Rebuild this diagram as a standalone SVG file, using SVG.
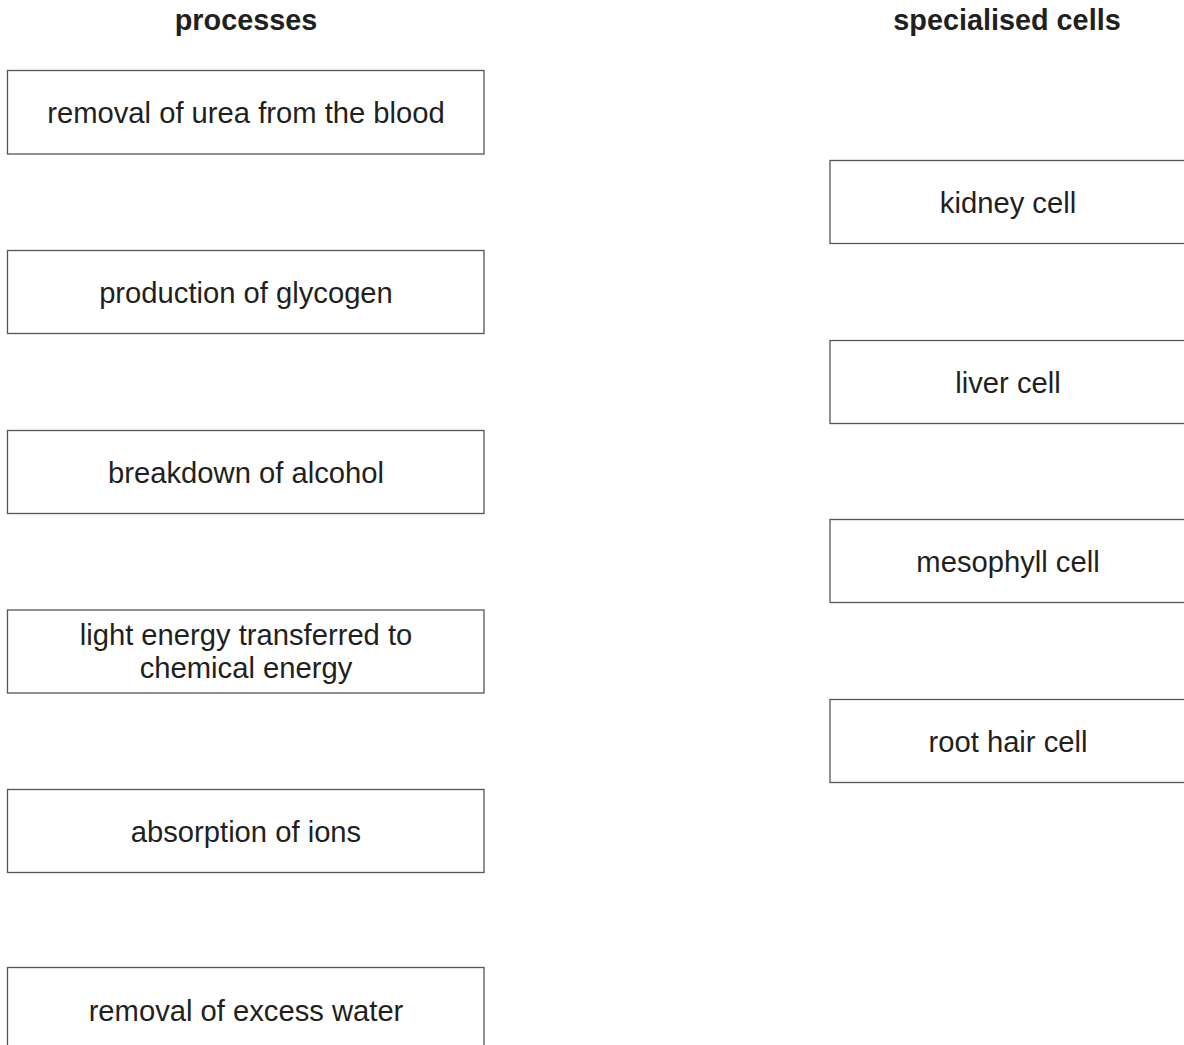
<svg xmlns="http://www.w3.org/2000/svg" width="1184" height="1045" viewBox="0 0 1184 1045">
<style>
.box{fill:#fff;stroke:#555;stroke-width:1.3}
.t{font-family:"Liberation Sans",Arial,sans-serif;font-size:29.2px;fill:#231f20;text-anchor:middle}
.h{font-family:"Liberation Sans",Arial,sans-serif;font-size:28.8px;font-weight:bold;fill:#231f20;text-anchor:middle}
</style>
<rect width="1184" height="1045" fill="#fff"/>
<text class="h" x="246" y="30">processes</text>
<text class="h" x="1007" y="30">specialised cells</text>
<g id="p1"><rect class="box" x="7.5" y="70.5" width="476.5" height="83.5"/><text class="t" x="246" y="123">removal of urea from the blood</text></g>
<g id="p2"><rect class="box" x="7.5" y="250.5" width="476.5" height="83"/><text class="t" x="246" y="303">production of glycogen</text></g>
<g id="p3"><rect class="box" x="7.5" y="430.5" width="476.5" height="83"/><text class="t" x="246" y="483">breakdown of alcohol</text></g>
<g id="p4"><rect class="box" x="7.5" y="610" width="476.5" height="83"/><text class="t" x="246" y="645">light energy transferred to</text><text class="t" x="246" y="678">chemical energy</text></g>
<g id="p5"><rect class="box" x="7.5" y="789.5" width="476.5" height="83"/><text class="t" x="246" y="842">absorption of ions</text></g>
<g id="p6"><rect class="box" x="7.5" y="967.5" width="476.5" height="90"/><text class="t" x="246" y="1021">removal of excess water</text></g>
<g id="c1"><rect class="box" x="830" y="160.5" width="370" height="83"/><text class="t" x="1008" y="213">kidney cell</text></g>
<g id="c2"><rect class="box" x="830" y="340.5" width="370" height="83"/><text class="t" x="1008" y="393">liver cell</text></g>
<g id="c3"><rect class="box" x="830" y="519.5" width="370" height="83"/><text class="t" x="1008" y="572">mesophyll cell</text></g>
<g id="c4"><rect class="box" x="830" y="699.5" width="370" height="83"/><text class="t" x="1008" y="752">root hair cell</text></g>
<g id="connectors"></g>
</svg>
